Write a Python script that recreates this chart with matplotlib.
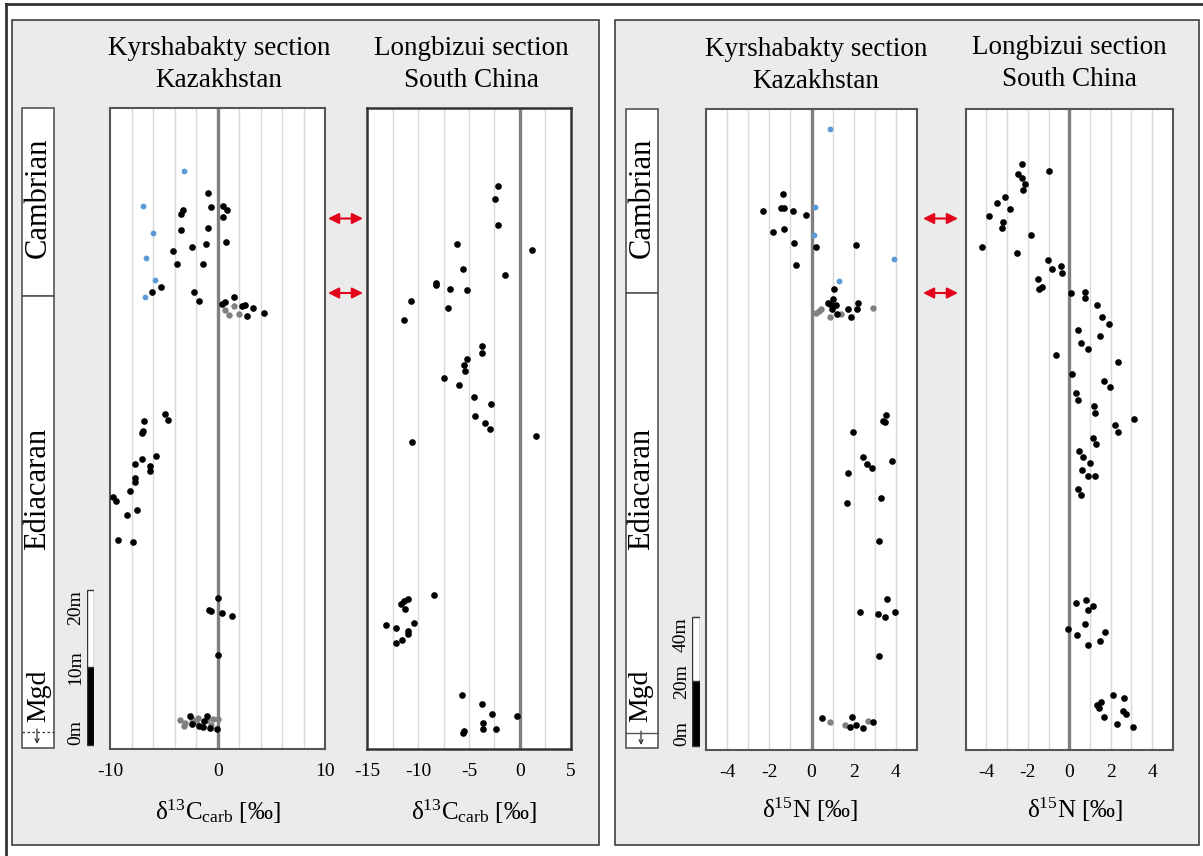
import matplotlib
matplotlib.use('Agg')
import matplotlib.pyplot as plt
from matplotlib.patches import Rectangle, FancyArrowPatch
from matplotlib.lines import Line2D

plt.rcParams['font.family'] = ['Liberation Serif', 'DejaVu Serif']
plt.rcParams['mathtext.fontset'] = 'custom'
plt.rcParams['mathtext.rm'] = 'Liberation Serif'
plt.rcParams['mathtext.it'] = 'Liberation Serif:italic'
plt.rcParams['mathtext.bf'] = 'Liberation Serif:bold'
plt.rcParams['axes.unicode_minus'] = False

# ---------------- data ----------------
# Kyrshabakty d13C (x: permil, h: metres above base)
k13_blue_x = [-3.16, -6.95, -5.99, -6.70, -5.83, -6.79]
k13_blue_h = [74.1, 69.5, 66.1, 62.8, 60.0, 57.8]
k13_black_x = [-0.90, -0.59, 0.46, 0.87, -3.23, -3.39, 0.52, -0.87, -3.44, 0.74, -1.09, -2.42, -4.16,
               -3.79, -1.37, -5.25, -6.11, -2.20, -1.74, 1.49, 0.65, 0.43, 2.23, 2.57, 3.26, 2.70, 4.34,
               -4.90, -4.59, -6.87, -6.94, -7.04, -5.76, -7.08, -7.68, -6.26, -6.30, -7.68, -7.72, -8.19,
               -9.71, -9.50, -7.54, -8.40, -9.32, -7.90,
               0.04, -0.85, -0.63, 0.40, 1.32, 0.04,
               -2.60, -1.00, -2.38, -1.74, -1.35, -0.71, -0.07, -1.27]
k13_black_h = [71.2, 69.4, 69.5, 69.1, 69.1, 68.5, 68.1, 66.7, 66.4, 64.9, 64.6, 64.3, 63.7,
               62.1, 62.1, 59.1, 58.5, 58.4, 57.3, 57.8, 57.2, 56.9, 56.6, 56.8, 56.4, 55.4, 55.7,
               42.7, 41.9, 41.8, 40.5, 40.2, 37.3, 36.9, 36.3, 36.0, 35.3, 34.5, 33.9, 32.8,
               32.0, 31.5, 30.3, 29.7, 26.5, 26.2,
               19.0, 17.4, 17.3, 17.0, 16.7, 11.6,
               3.7, 3.8, 2.7, 2.5, 2.3, 2.2, 2.1, 3.1]
k13_gray_x = [1.52, 0.68, 1.08, 2.01, -3.5, -3.0, -2.4, -1.8, -1.0, -0.4, 0.0, -3.1, -2.0, -0.6]
k13_gray_h = [56.6, 56.1, 55.5, 55.6, 3.2, 2.8, 3.4, 3.5, 3.2, 3.3, 3.3, 2.4, 2.9, 2.6]

# Longbizui d13C
l13_x = [-2.19, -2.49, -2.19, -6.22, 1.24, -5.58, -1.47, -8.26, -8.22, -6.86, -5.16, -10.67, -7.05, -11.43,
         -3.69, -3.69, -5.20, -5.51, -5.43, -7.47, -5.96, -4.52, -2.87, -4.44, -3.43, -2.98, 1.59, -10.59,
         -8.48, -11.04, -11.68, -11.40, -11.31, -13.19, -12.22, -10.40, -10.97, -10.97, -11.61, -12.22,
         -5.69, -3.69, -2.71, -0.30, -3.61, -3.61, -2.30, -5.47, -5.58]
l13_h = [72.1, 70.5, 67.1, 64.6, 63.9, 61.4, 60.6, 59.6, 59.3, 58.8, 58.7, 57.3, 56.4, 54.8,
         51.5, 50.6, 49.8, 49.0, 48.2, 47.4, 46.5, 44.9, 44.0, 42.4, 41.6, 40.8, 39.9, 39.1,
         19.3, 18.9, 18.2, 18.6, 17.6, 15.5, 15.1, 15.8, 14.7, 14.3, 13.5, 13.1,
         6.5, 5.3, 4.0, 3.7, 2.8, 2.1, 2.0, 1.8, 1.6]

# Kyrshabakty d15N
k15_blue_x = [0.90, 0.17, 0.12, 3.89, 1.28]
k15_blue_h = [191.4, 167.0, 158.5, 150.9, 144.2]
k15_black_x = [-1.35, -2.29, -1.46, -1.31, -0.89, -0.27, -1.83, -1.31, -0.84, 0.22, 2.10, -0.74, 1.09,
               1.03, 0.79, 0.90, 1.03, 1.18, 0.96, 2.21, 2.15, 1.75, 1.23, 1.85,
               3.55, 3.37, 3.50, 1.98, 2.44, 2.64, 2.88, 3.80, 1.72, 1.67, 3.31, 3.22, 3.60, 2.31,
               3.15, 3.47, 3.97, 3.22, 0.52, 1.91, 2.12, 1.82, 2.42, 2.91]
k15_black_h = [171.1, 166.0, 166.8, 166.8, 166.0, 164.5, 159.3, 160.2, 155.9, 154.6, 155.3, 149.2, 141.7,
               138.6, 137.5, 137.0, 136.4, 136.7, 135.5, 137.5, 135.5, 135.4, 133.9, 133.1,
               102.5, 100.8, 100.4, 97.3, 89.5, 87.4, 86.3, 88.5, 84.7, 75.4, 76.9, 63.6, 45.5, 41.5,
               40.8, 40.0, 41.6, 27.8, 8.8, 9.1, 6.5, 6.0, 5.5, 7.4]
k15_gray_x = [2.92, 0.47, 0.35, 0.22, 0.88, 1.40, 0.87, 1.58, 2.67]
k15_gray_h = [135.9, 135.5, 134.9, 134.4, 133.1, 133.9, 7.3, 6.6, 7.9]

# Longbizui d15N
l15_x = [-2.27, -0.97, -2.47, -2.27, -2.14, -2.25, -3.08, -3.51, -2.88, -3.86, -3.21, -3.25, -1.84, -4.22,
         -2.53, -1.02, -0.82, -0.39, -0.37, -1.50, -1.48, -1.31, 0.10, 0.78, 0.78, 1.32, 1.58, 1.90, 0.41,
         1.51, 0.56, 0.91, -0.62, 2.34, 0.13, 1.66, 1.99, 0.35, 0.44, 1.19, 1.23, 3.14, 2.20, 2.34, 1.17,
         1.30, 0.48, 0.69, 1.02, 0.61, 0.93, 1.23, 0.44, 0.59,
         0.33, 0.82, 1.13, 0.93, 0.74, -0.06, 0.39, 1.71, 1.51, 0.91, 2.10, 2.64, 1.55, 1.32, 1.45, 2.59,
         2.72, 1.66, 2.33, 3.09]
l15_h = [180.3, 178.3, 177.5, 176.2, 174.4, 172.3, 170.3, 168.4, 166.4, 164.4, 162.6, 160.5, 158.5, 154.6,
         152.7, 150.7, 147.8, 148.7, 146.8, 144.8, 141.8, 142.4, 140.4, 140.7, 138.8, 136.8, 133.0, 130.9, 129.0,
         127.0, 125.1, 123.1, 121.1, 119.2, 115.3, 113.3, 111.3, 109.4, 107.4, 105.4, 103.3, 101.5, 99.4, 97.5, 95.5,
         93.6, 91.6, 89.6, 87.7, 85.7, 83.6, 83.6, 79.8, 77.8,
         44.3, 45.3, 43.5, 42.3, 37.9, 36.4, 34.4, 35.4, 32.5, 31.4, 15.7, 14.8, 13.7, 12.8, 11.9, 10.9,
         9.8, 8.9, 6.9, 5.9]

c13_ticks_k = [-10, 0, 10]
c13_ticks_l = [-15, -10, -5, 0, 5]
n15_ticks = [-4, -2, 0, 2, 4]

# ---------------- layout helpers ----------------
W, H = 1203, 856
fig = plt.figure(figsize=(W / 100, H / 100), dpi=100)

def fx(x):
    return x / W

def fy(y):
    return 1 - y / H

def frect(x0, y0, x1, y1, **kw):
    r = Rectangle((fx(x0), fy(y1)), (x1 - x0) / W, (y1 - y0) / H, transform=fig.transFigure, **kw)
    fig.add_artist(r)
    return r

def fline(xs, ys, **kw):
    fig.add_artist(Line2D([fx(x) for x in xs], [fy(y) for y in ys], transform=fig.transFigure, **kw))

def ftext(x, y, s, **kw):
    fig.text(fx(x), fy(y), s, **kw)

def down_arrow(x, y0, y1):
    fig.add_artist(FancyArrowPatch((fx(x), fy(y0)), (fx(x), fy(y1)), transform=fig.transFigure,
                                   arrowstyle='->', mutation_scale=7, color='#333333', lw=0.9,
                                   shrinkA=0, shrinkB=0))

def make_ax(x0, x1, y0, y1, xlim, ylim, grid, ticks, ec='#555555', lw=1.5):
    ax = fig.add_axes([fx(x0), fy(y1), (x1 - x0) / W, (y1 - y0) / H])
    ax.set_facecolor('white')
    ax.set_xlim(*xlim)
    ax.set_ylim(*ylim)
    for g in grid:
        ax.axvline(g, color='#D9D9D9', lw=1.0, zorder=0.5)
    ax.axvline(0, color='#808080', lw=2.4, zorder=1)
    ax.set_yticks([])
    ax.set_xticks(ticks)
    ax.set_xticklabels([str(t) for t in ticks])
    ax.tick_params(axis='x', length=0, pad=10, labelsize=14)
    for s in ax.spines.values():
        s.set_color(ec)
        s.set_linewidth(lw)
    return ax

# outer frame
fline([6, 6], [4, 860], color='#333333', lw=2)
fline([6, 1205], [4, 4], color='#333333', lw=2)

# gray panels
frect(12, 20, 599, 845, fc='#EBEBEB', ec='#404040', lw=1.2, zorder=0)
frect(615, 20, 1199, 845, fc='#EBEBEB', ec='#404040', lw=1.2, zorder=0)

# ---------------- left panel ----------------
ylimL = (-0.52, 82.2)
ax1 = make_ax(110.2, 325.2, 108, 749, (-10, 10), ylimL,
              [-8, -6, -4, -2, 2, 4, 6, 8], c13_ticks_k)
ax1.plot(k13_gray_x, k13_gray_h, 'o', color='#808080', ms=4.6, mec='none', zorder=3)
ax1.plot(k13_black_x, k13_black_h, 'o', color='black', ms=4.8, mec='none', zorder=4)
ax1.plot(k13_blue_x, k13_blue_h, 'o', color='#5B9BD5', ms=4.2, mec='none', zorder=4)

ax2 = make_ax(367.4, 570.7, 108, 749, (-15, 5), ylimL,
              [-12.5, -10, -7.5, -5, -2.5, 2.5], c13_ticks_l, ec='#333333', lw=1.8)
ax2.plot(l13_x, l13_h, 'o', color='black', ms=4.8, mec='none', zorder=4)

# scale bar left (10 m units)
sb1 = fig.add_axes([fx(86.5), fy(749), 7.6 / W, 641 / H])
sb1.set_xlim(0, 1)
sb1.set_ylim(*ylimL)
sb1.axis('off')
sb1.add_patch(Rectangle((0, 0), 1, 10, fc='black', ec='#333333', lw=1))
sb1.add_patch(Rectangle((0, 10), 1, 10, fc='white', ec='#333333', lw=1))
sb1.text(-1.45, 0, '0m', rotation=90, ha='center', va='bottom', fontsize=14, clip_on=False)
sb1.text(-1.45, 10, '10m', rotation=90, ha='center', va='center', fontsize=14, clip_on=False)
sb1.text(-1.45, 20, '20m', rotation=90, ha='center', va='top', fontsize=14, clip_on=False)

# stratigraphic column left
frect(22, 108, 54, 296, fc='white', ec='#555555', lw=1.2, zorder=1)
frect(22, 296, 54, 748, fc='white', ec='#555555', lw=1.2, zorder=1)
fline([22, 54], [732, 732], color='#333333', lw=0.9, ls=(0, (2, 2)), zorder=2)
ftext(38, 198, 'Cambrian', rotation=90, ha='center', va='center', fontsize=22)
ftext(38, 489, 'Ediacaran', rotation=90, ha='center', va='center', fontsize=22)
ftext(39, 696, 'Mgd', rotation=90, ha='center', va='center', fontsize=20)
down_arrow(37, 729, 744)

# titles left
ftext(219, 55, 'Kyrshabakty section', ha='center', va='baseline', fontsize=19.5)
ftext(219, 87, 'Kazakhstan', ha='center', va='baseline', fontsize=19.5)
ftext(471, 55, 'Longbizui section', ha='center', va='baseline', fontsize=19.5)
ftext(471, 87, 'South China', ha='center', va='baseline', fontsize=19.5)

c13_label = r'δ$^{\mathrm{13}}$C$_{\mathrm{carb}}$ [‰]'
ftext(218, 820, c13_label, ha='center', va='baseline', fontsize=18)
ftext(474, 820, c13_label, ha='center', va='baseline', fontsize=18)

# correlation arrows left
for yy in (218.5, 293):
    fig.add_artist(FancyArrowPatch((fx(328), fy(yy)), (fx(363), fy(yy)), transform=fig.transFigure,
                                   arrowstyle='<|-|>', mutation_scale=16, color='#E3001B', lw=1.5,
                                   shrinkA=0, shrinkB=0))

# ---------------- right panel ----------------
ylimR = (-1.24, 197.5)
ax3 = make_ax(706, 917, 109, 750, (-5, 5), ylimR,
              [-4, -3, -2, -1, 1, 2, 3, 4], n15_ticks)
ax3.plot(k15_gray_x, k15_gray_h, 'o', color='#808080', ms=4.6, mec='none', zorder=3)
ax3.plot(k15_black_x, k15_black_h, 'o', color='black', ms=4.8, mec='none', zorder=4)
ax3.plot(k15_blue_x, k15_blue_h, 'o', color='#5B9BD5', ms=4.2, mec='none', zorder=4)

ax4 = make_ax(965.7, 1172.7, 109, 750, (-5, 5), ylimR,
              [-4, -3, -2, -1, 1, 2, 3, 4], n15_ticks)
ax4.plot(l15_x, l15_h, 'o', color='black', ms=4.8, mec='none', zorder=4)

# scale bar right (20 m units)
sb2 = fig.add_axes([fx(692), fy(750), 8 / W, 641 / H])
sb2.set_xlim(0, 1)
sb2.set_ylim(*ylimR)
sb2.axis('off')
sb2.add_patch(Rectangle((0, 0), 1, 20, fc='black', ec='#333333', lw=1))
sb2.add_patch(Rectangle((0, 20), 1, 20, fc='white', ec='#333333', lw=1))
sb2.text(-1.3, 0, '0m', rotation=90, ha='center', va='bottom', fontsize=14, clip_on=False)
sb2.text(-1.3, 20, '20m', rotation=90, ha='center', va='center', fontsize=14, clip_on=False)
sb2.text(-1.3, 40, '40m', rotation=90, ha='center', va='top', fontsize=14, clip_on=False)

# stratigraphic column right
frect(626, 109, 658, 293, fc='white', ec='#555555', lw=1.2, zorder=1)
frect(626, 293, 658, 748, fc='white', ec='#555555', lw=1.2, zorder=1)
fline([626, 658], [733, 733], color='#555555', lw=1.0, zorder=2)
ftext(642, 198, 'Cambrian', rotation=90, ha='center', va='center', fontsize=22)
ftext(642, 489, 'Ediacaran', rotation=90, ha='center', va='center', fontsize=22)
ftext(641, 696, 'Mgd', rotation=90, ha='center', va='center', fontsize=20)
down_arrow(641, 731, 745)

ftext(816, 56, 'Kyrshabakty section', ha='center', va='baseline', fontsize=19.5)
ftext(816, 88, 'Kazakhstan', ha='center', va='baseline', fontsize=19.5)
ftext(1069, 54, 'Longbizui section', ha='center', va='baseline', fontsize=19.5)
ftext(1069, 86, 'South China', ha='center', va='baseline', fontsize=19.5)

n15_label = r'δ$^{\mathrm{15}}$N [‰]'
ftext(810, 818, n15_label, ha='center', va='baseline', fontsize=18)
ftext(1075, 818, n15_label, ha='center', va='baseline', fontsize=18)

for yy in (218.5, 293):
    fig.add_artist(FancyArrowPatch((fx(923), fy(yy)), (fx(958), fy(yy)), transform=fig.transFigure,
                                   arrowstyle='<|-|>', mutation_scale=16, color='#E3001B', lw=1.5,
                                   shrinkA=0, shrinkB=0))

fig.savefig('out.png', dpi=100, facecolor='white')
